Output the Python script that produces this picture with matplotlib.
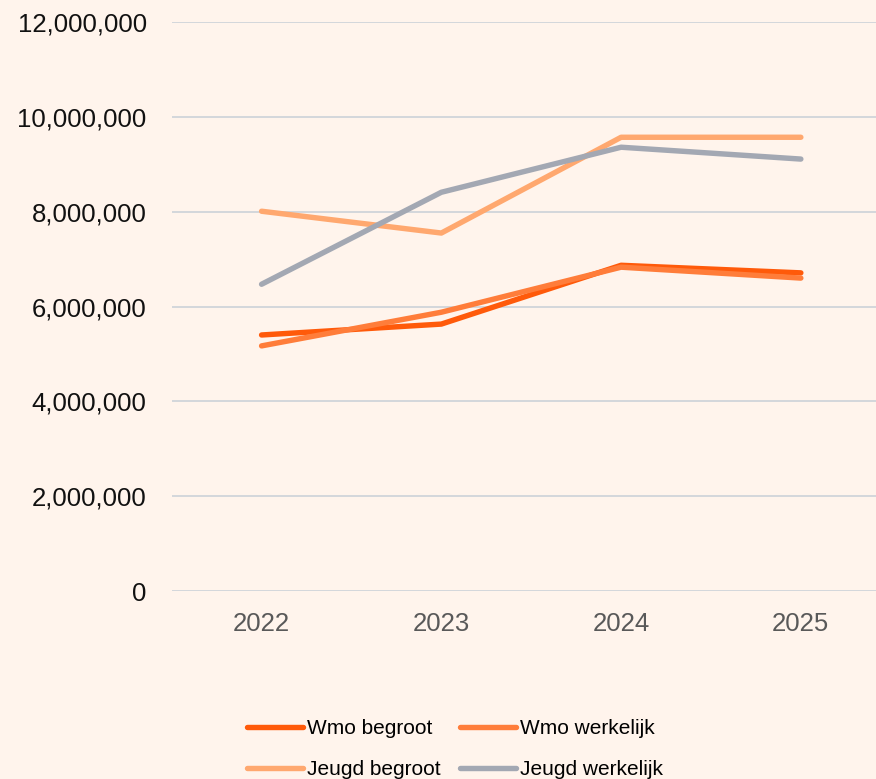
import matplotlib
matplotlib.use('Agg')
import matplotlib.pyplot as plt
from matplotlib.ticker import FuncFormatter

plt.rcParams['font.family'] = ['Liberation Sans', 'DejaVu Sans']

# data
years = ['2022', '2023', '2024', '2025']
wmo_begroot = [5400000, 5630000, 6870000, 6710000]
wmo_werkelijk = [5170000, 5880000, 6830000, 6600000]
jeugd_begroot = [8010000, 7550000, 9570000, 9570000]
jeugd_werkelijk = [6470000, 8410000, 9360000, 9110000]

bg = '#FFF4EC'
fig = plt.figure(figsize=(8.76, 7.79), dpi=100, facecolor=bg)
ax = fig.add_axes([0.196, 0.2413, 0.804, 0.7304], facecolor=bg)

series = [
    ('Wmo begroot', wmo_begroot, '#FF5A0A'),
    ('Wmo werkelijk', wmo_werkelijk, '#FF7D3A'),
    ('Jeugd begroot', jeugd_begroot, '#FFA86F'),
    ('Jeugd werkelijk', jeugd_werkelijk, '#A3A8B3'),
]
x = range(len(years))
lines = {}
for label, vals, col in series:
    ln, = ax.plot(x, vals, color=col, linewidth=3.9, solid_capstyle='round',
                  label=label, zorder=3)
    lines[label] = ln

ax.set_ylim(0, 12000000)
ax.set_yticks(range(0, 12000001, 2000000))
ax.yaxis.set_major_formatter(FuncFormatter(lambda v, p: f'{int(v):,}'))
ax.set_xlim(-0.5, 3.418)
ax.set_xticks(list(x))
ax.set_xticklabels(years)

ax.grid(axis='y', color='#D0D4DA', linewidth=1.3, zorder=0)
for s in ax.spines.values():
    s.set_visible(False)
ax.tick_params(axis='y', length=0, pad=18, labelsize=18.5, labelcolor='#111111')
ax.tick_params(axis='x', length=0, pad=15, labelsize=18.5, labelcolor='#595959')

# legend fills column by column, so order entries to read row by row
order = ['Wmo begroot', 'Jeugd begroot', 'Wmo werkelijk', 'Jeugd werkelijk']
fig.legend([lines[k] for k in order], order,
           loc='center', bbox_to_anchor=(455 / 876, 1 - 749 / 779), ncol=2,
           frameon=False, fontsize=15, handlelength=2.67, handletextpad=0.2,
           columnspacing=0.95, labelspacing=1.05)

fig.savefig('out.png', dpi=100, facecolor=bg)
